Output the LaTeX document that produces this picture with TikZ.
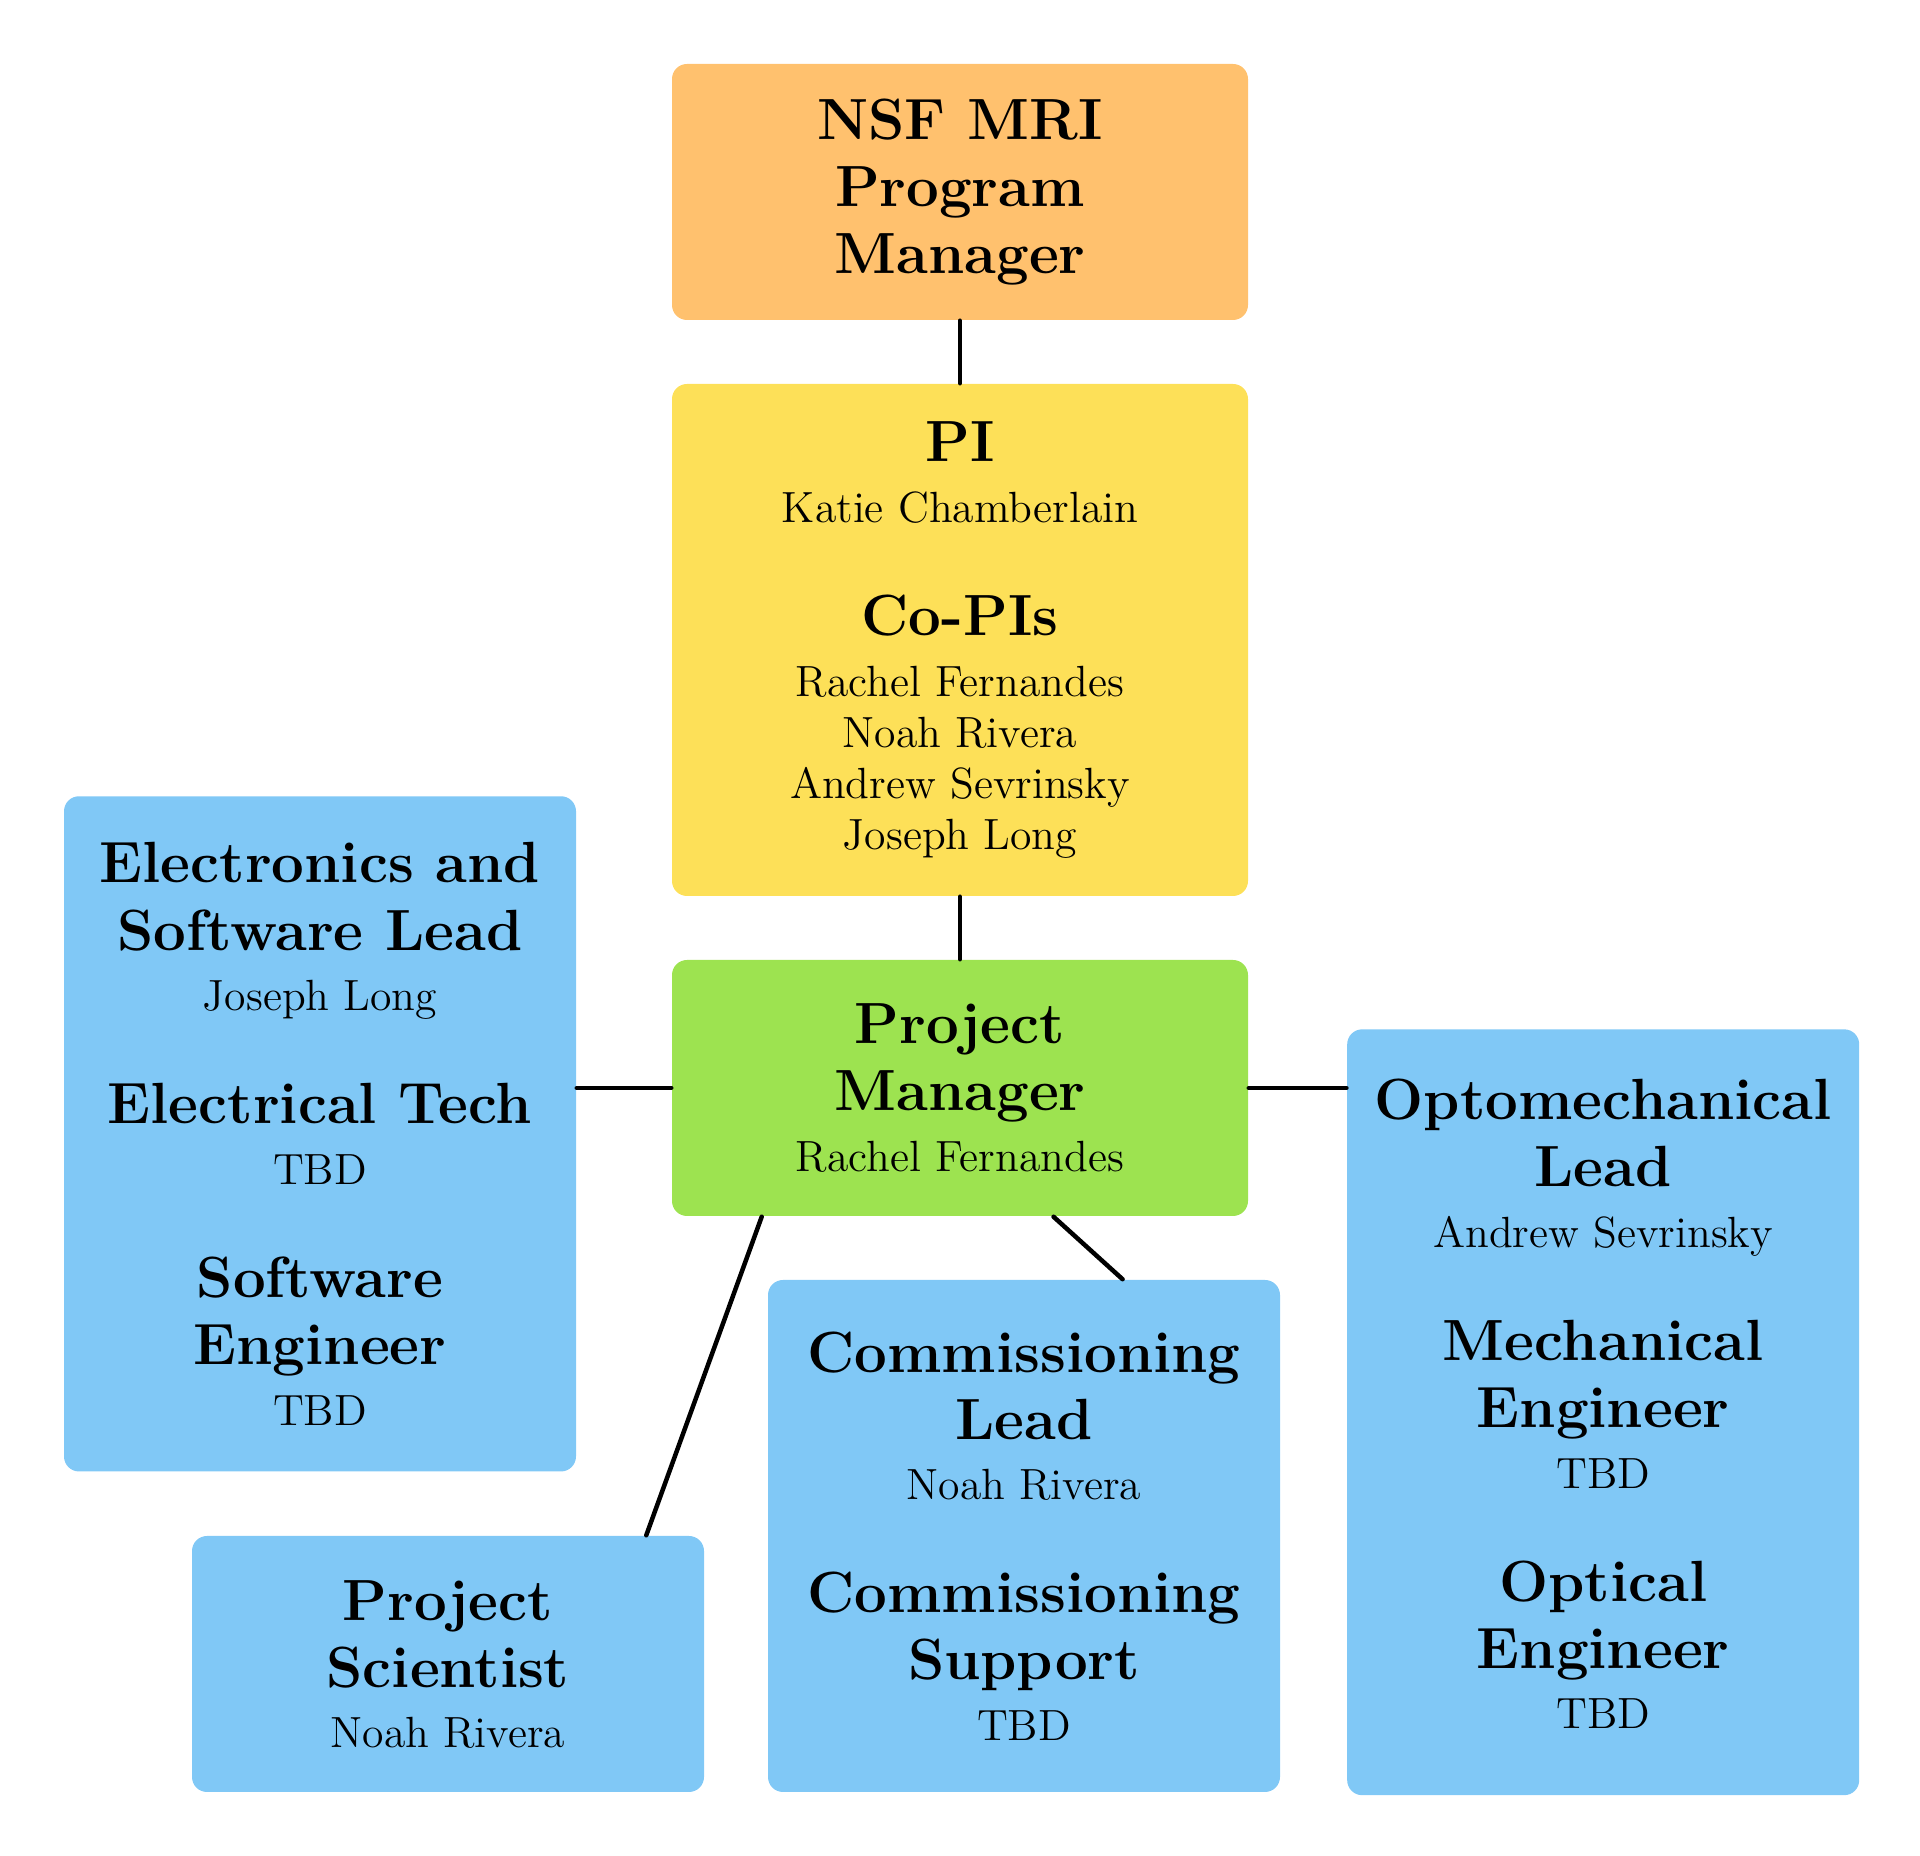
\documentclass[tikz,border=0pt]{standalone}
\usetikzlibrary{calc}
\definecolor{fundcol}{HTML}{FFC16E}
\definecolor{picol}{HTML}{FDE058}
\definecolor{pmcol}{HTML}{9DE350}
\definecolor{teamcol}{HTML}{80C8F6}
\newcommand{\roletitle}{\fontsize{15.5}{18}\selectfont\bfseries}
\setlength{\lineskiplimit}{-20pt}
\begin{document}
\begin{tikzpicture}[line join=round,line cap=round,
		every node/.style={font=\fontsize{11.65}{13.6}\selectfont},
		box/.style={fill=#1,rounded corners=4pt,align=center,inner sep=0pt,minimum width=4.8cm},
		link/.style={line width=1.2pt,black},
		declare function={xM = 9; yNSF = 15.6; yPI = 11.4; yPM = 7.2; xEl = 3; yEl = 6.77; xOp = 15.03; yOp = 4.16; xCo = 9.6; yCo = 3.0; xSc = 4.2; ySc = 1.8; }]
	\useasboundingbox (0,0) rectangle (18,17.4);
	%% Funding agency
	\node[box=fundcol,minimum width=5.4cm,minimum height=2.4cm] (nsf) at (xM,yNSF) {{\roletitle NSF MRI}\\[4.3pt]{\roletitle Program}\\[4.3pt]{\roletitle Manager}};
	%% PI and Co-PIs
	\node[box=picol,minimum width=5.4cm,minimum height=4.8cm] (pi) at (xM,yPI) {{\roletitle PI}\\[2.6pt]Katie Chamberlain\\[16.5pt]{\roletitle Co-PIs}\\[2.6pt]Rachel Fernandes\\Noah Rivera\\Andrew Sevrinsky\\Joseph Long};
	%% Project manager
	\node[box=pmcol,minimum width=5.4cm,minimum height=2.4cm] (pm) at (xM,yPM) {{\roletitle Project}\\[4.3pt]{\roletitle Manager}\\[2.6pt]Rachel Fernandes};
	%% Teams
	\node[box=teamcol,minimum height=6.33cm] (elec) at (xEl,yEl) {{\roletitle Electronics and}\\[4.3pt]{\roletitle Software Lead}\\[2.6pt]Joseph Long\\[16.5pt]{\roletitle Electrical Tech}\\[2.6pt]TBD\\[16.5pt]{\roletitle Software}\\[4.3pt]{\roletitle Engineer}\\[2.6pt]TBD};
	\node[box=teamcol,minimum height=7.18cm,text depth=4.4pt] (opto) at (xOp,yOp) {{\roletitle Optomechanical}\\[4.3pt]{\roletitle Lead}\\[2.6pt]Andrew Sevrinsky\\[16.5pt]{\roletitle Mechanical}\\[4.3pt]{\roletitle Engineer}\\[2.6pt]TBD\\[16.5pt]{\roletitle Optical}\\[4.3pt]{\roletitle Engineer}\\[2.6pt]TBD};
	\node[box=teamcol,minimum height=4.8cm,text depth=-2.6pt] (comm) at (xCo,yCo) {{\roletitle Commissioning}\\[4.3pt]{\roletitle Lead}\\[2.6pt]Noah Rivera\\[16.5pt]{\roletitle Commissioning}\\[4.3pt]{\roletitle Support}\\[2.6pt]TBD};
	\node[box=teamcol,minimum height=2.4cm,text depth=-1.6pt] (sci) at (xSc,ySc) {{\roletitle Project}\\[4.3pt]{\roletitle Scientist}\\[2.6pt]Noah Rivera};
	%% Connectors
	\draw[link] (nsf) -- (pi);
	\draw[link] (pi) -- (pm);
	\draw[link] (pm.west) -- (pm.west -| elec.east);
	\draw[link] (pm.east) -- (pm.east -| opto.west);
	\draw[link] (pm.213.7) -- (sci.33.2);
	\draw[link] (pm.306.8) -- (comm.69);
\end{tikzpicture}
\end{document}
